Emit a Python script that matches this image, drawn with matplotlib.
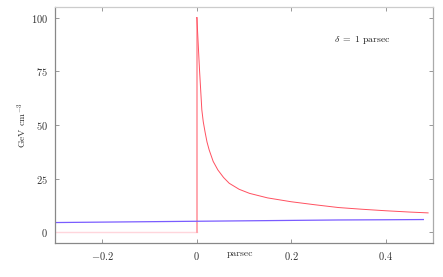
import matplotlib
matplotlib.use("Agg")
import matplotlib.pyplot as plt

plt.rcParams['font.family'] = 'serif'
plt.rcParams['font.serif'] = ['cmr10']
plt.rcParams['mathtext.fontset'] = 'cm'
plt.rcParams['axes.formatter.use_mathtext'] = True

# Data
red_left_x = [-0.3, 0.0, 0.0]
red_left_y = [0.0, 0.0, 100.0]
red_x = [0.0, 0.0005, 0.006, 0.011, 0.014, 0.018, 0.022, 0.0266, 0.035, 0.045,
         0.057, 0.069, 0.09, 0.112, 0.15, 0.2, 0.25, 0.3, 0.35, 0.4, 0.45, 0.49]
red_y = [100.0, 100.0, 76.0, 57.0, 51.5, 46.5, 42.0, 38.3, 33.0, 29.0,
         25.5, 22.8, 20.0, 18.1, 16.0, 14.2, 12.8, 11.5, 10.7, 10.0, 9.4, 9.0]
blue_x = [-0.3, -0.15, 0.0, 0.1, 0.2, 0.3, 0.4, 0.48]
blue_y = [4.5, 4.8, 5.1, 5.3, 5.5, 5.7, 5.8, 5.9]
xticks = [-0.2, 0.0, 0.2, 0.4]
xticklabels = [r'$-0.2$', r'$0$', r'$0.2$', r'$0.4$']
yticks = [0, 25, 50, 75, 100]
annotation = r'$\delta\;=\;1$ parsec'

fig = plt.figure(figsize=(4.43, 2.77), dpi=100)
ax = fig.add_axes([0.124, 0.123, 0.853, 0.852])

ax.plot(red_left_x[:2], red_left_y[:2], color='#ffd6dc', lw=1.0)
ax.plot(red_left_x[1:], red_left_y[1:], color='#ffa0a8', lw=1.3)
ax.plot(red_x, red_y, color='#ff5060', lw=0.7)
ax.plot(blue_x, blue_y, color='#7a5cff', lw=0.9)

ax.set_xlim(-0.3, 0.5)
ax.set_ylim(-5, 105)
ax.set_xticks(xticks)
ax.set_xticklabels(xticklabels)
ax.set_yticks(yticks)
ax.set_yticklabels([r'$%d$' % v for v in yticks])

ax.tick_params(direction='in', length=3, width=0.6, color='#888888',
               labelsize=7.5, labelcolor='#333333', top=True, right=True, pad=5)
for side in ['left', 'bottom', 'right']:
    ax.spines[side].set_color('#888888')
    ax.spines[side].set_linewidth(0.9)
ax.spines['top'].set_color('#cccccc')
ax.spines['top'].set_linewidth(0.9)
ax.spines['right'].set_color('#aaaaaa')

ax.set_xlabel('parsec', fontsize=7, color='#333333')
ax.xaxis.set_label_coords(0.49, -0.03)
ax.set_ylabel(r'GeV cm$^{-3}$', fontsize=7, color='#333333')
ax.yaxis.set_label_coords(-0.068, 0.5)

ax.text(0.29, 89.5, annotation, fontsize=7, color='#222222', va='center', ha='left')

fig.savefig('out.png', dpi=100)
